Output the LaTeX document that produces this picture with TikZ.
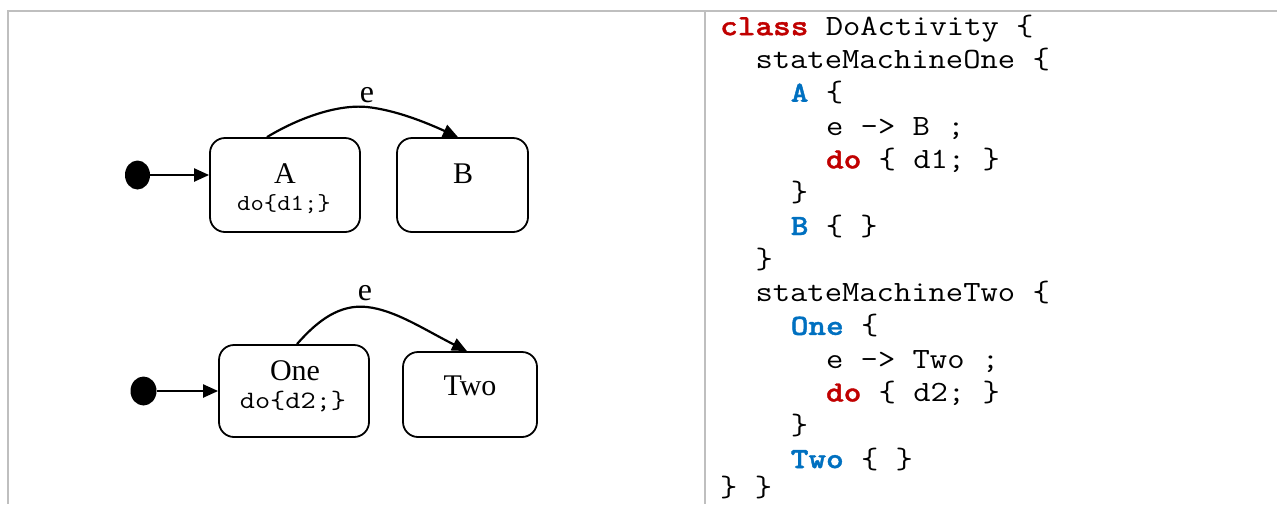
\documentclass[tikz,border=0pt]{standalone}
\usepackage{fontspec}
\setmainfont{Liberation Serif}
\newfontfamily\kwfont[FakeBold=1.2]{lmmonolt10-bold.otf}
\usetikzlibrary{arrows.meta,shapes.geometric}
\definecolor{kwred}{HTML}{C00000}
\definecolor{kwblue}{HTML}{0070C0}
\definecolor{rule}{HTML}{BFBFBF}
\newcommand{\kr}[1]{{\kwfont\textcolor{kwred}{#1}}}
\newcommand{\kb}[1]{{\kwfont\textcolor{kwblue}{#1}}}
\newcommand{\codetxt}[1]{\scalebox{1.1435}[1]{#1}}
\tikzset{
  statebox/.style={draw=black, line width=1.8pt, rounded corners=15pt, inner sep=0pt},
  initdot/.style={ellipse, fill=black, draw=none, inner sep=0pt},
  trans/.style={line width=2.2pt, -{Triangle[length=15pt,width=13pt]}},
  sname/.style={font=\fontsize{30}{32}\selectfont, inner sep=0pt, anchor=base},
  sdo/.style={font=\fontsize{23}{25}\ttfamily, inner sep=0pt, anchor=base},
  elabel/.style={font=\fontsize{32}{34}\selectfont, inner sep=0pt, anchor=base},
  codeline/.style={font=\fontsize{29.4}{33}\ttfamily, inner sep=0pt, anchor=base west},
  gridline/.style={draw=rule, line width=2pt}
}
\begin{document}
\begin{tikzpicture}[x=1pt,y=-1pt]
\useasboundingbox (0,0) rectangle (1277,504);
% table lines
\draw[gridline] (7,11) -- (1277,11);
\draw[gridline] (8,11) -- (8,504);
\draw[gridline] (705,11) -- (705,504);

% state machine one
\node[initdot, minimum width=25pt, minimum height=29pt] (dot1) at (137.5,175) {};
\node[statebox, minimum width=150pt, minimum height=94pt] (A) at (285,185) {};
\node[statebox, minimum width=131pt, minimum height=94pt] (B) at (462.5,185) {};
\node[sname] (Alab) at (285,183) {A};
\node[sdo] (Ado) at (284,210) {\scalebox{1.13}[1]{do\{d1;\}}};
\node[sname] (Blab) at (463,183) {B};
\draw[trans] (dot1.east) -- (A.west |- dot1.east);
\coordinate (peak1) at (367,107);
\draw[trans] ([xshift=-18pt]A.north) .. controls (295,120) and (335,104) .. (peak1)
  .. controls (395,110) and (425,122) .. ([xshift=-4.5pt]B.north);
\node[elabel] (e1) at (367,102) {e};

% state machine two
\node[initdot, minimum width=26pt, minimum height=29pt] (dot2) at (143.5,391) {};
\node[statebox, minimum width=150pt, minimum height=92pt] (One) at (294,391) {};
\node[statebox, minimum width=134pt, minimum height=85pt] (Two) at (470,394.5) {};
\node[sname] (Onelab) at (295,380) {One};
\node[sdo, font=\fontsize{25}{27}\ttfamily] (Onedo) at (293,408) {\scalebox{1.18}[1]{do\{d2;\}}};
\node[sname] (Twolab) at (470,395) {Two};
\draw[trans] (dot2.east) -- (One.west |- dot2.east);
\coordinate (peak2) at (367,307);
\draw[trans] ([xshift=3pt]One.north) .. controls (318,320) and (340,304) .. (peak2)
  .. controls (395,310) and (425,330) .. ([xshift=-3pt]Two.north);
\node[elabel] (e2) at (365,300) {e};

% code
\def\cx{720}
\def\cw{17.65}
\node[codeline] (c0) at (\cx+0*\cw, 35.2) {\codetxt{\kr{class} DoActivity \{}};
\node[codeline] (c1) at (\cx+2*\cw, 68.5) {\codetxt{stateMachineOne \{}};
\node[codeline] (c2) at (\cx+4*\cw, 101.8) {\codetxt{\kb{A} \{}};
\node[codeline] (c3) at (\cx+6*\cw, 135.1) {\codetxt{e -> B ;}};
\node[codeline] (c4) at (\cx+6*\cw, 168.4) {\codetxt{\kr{do} \{ d1; \}}};
\node[codeline] (c5) at (\cx+4*\cw, 201.7) {\codetxt{\}}};
\node[codeline] (c6) at (\cx+4*\cw, 235.0) {\codetxt{\kb{B} \{ \}}};
\node[codeline] (c7) at (\cx+2*\cw, 268.3) {\codetxt{\}}};
\node[codeline] (c8) at (\cx+2*\cw, 301.6) {\codetxt{stateMachineTwo \{}};
\node[codeline] (c9) at (\cx+4*\cw, 334.9) {\codetxt{\kb{One} \{}};
\node[codeline] (c10) at (\cx+6*\cw, 368.2) {\codetxt{e -> Two ;}};
\node[codeline] (c11) at (\cx+6*\cw, 401.5) {\codetxt{\kr{do} \{ d2; \}}};
\node[codeline] (c12) at (\cx+4*\cw, 434.8) {\codetxt{\}}};
\node[codeline] (c13) at (\cx+4*\cw, 468.1) {\codetxt{\kb{Two} \{ \}}};
\node[codeline] (c14) at (\cx+0*\cw, 496.5) {\codetxt{\} \}}};
\end{tikzpicture}
\end{document}
